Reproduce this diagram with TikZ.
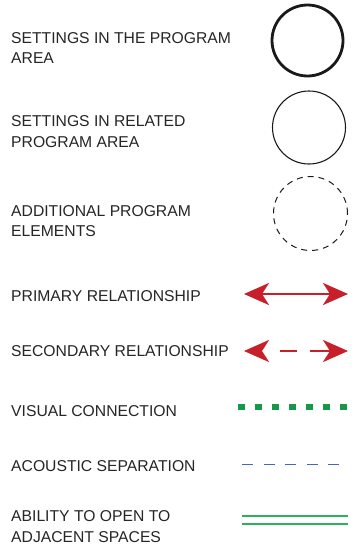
\documentclass[tikz,border=0pt]{standalone}
\usepackage{fontspec}
\setmainfont{Liberation Sans}
\usepackage{xcolor}
\usepackage{tikz}
\usetikzlibrary{arrows.meta}
\definecolor{relred}{HTML}{C8202A}
\definecolor{visgreen}{HTML}{16984A}
\definecolor{openGreen}{HTML}{2EB062}
\definecolor{acblue}{HTML}{4A66B4}
\tikzset{
    label_text/.style = {anchor=west, inner sep=0pt, align=left, text=black!85, font=\fontsize{15.7}{20.8}\selectfont},
    area_main/.style = {circle, draw=black!90, line width=2.8pt, minimum size=71pt, inner sep=0pt},
    area_rel/.style = {circle, draw=black!90, line width=1.1pt, minimum size=73pt, inner sep=0pt},
    area_add/.style = {circle, draw=black!90, line width=1pt, dash pattern=on 6pt off 5pt, minimum size=74pt, inner sep=0pt},
    rel_tip/.tip = {Stealth[length=25pt, width=22pt, inset=7pt]},
    prim_rel/.style = {draw=relred, line width=2.6pt, rel_tip-rel_tip},
    sec_rel/.style = {draw=relred, line width=2.6pt, rel_tip-rel_tip, dash pattern=on 0pt off 19pt on 17pt off 13pt on 40pt},
    vis_line/.style = {draw=visgreen, line width=6.5pt, dash pattern=on 6.5pt off 10.5pt},
    ac_line/.style = {draw=acblue, line width=0.9pt, dash pattern=on 11pt off 10.5pt},
    open_line/.style = {draw=openGreen, line width=1.3pt, double distance=6.5pt, double=white}
}
\begin{document}
\begin{tikzpicture}[x=1pt, y=-1pt]
    \useasboundingbox[fill=white] (0,0) rectangle (359,560);
    % labels
    \node [label_text] (l_main) at (11,48) {SETTINGS IN THE PROGRAM\\AREA};
    \node [label_text] (l_rel) at (11,131.5) {SETTINGS IN RELATED\\PROGRAM AREA};
    \node [label_text] (l_add) at (11,221) {ADDITIONAL PROGRAM\\ELEMENTS};
    \node [label_text] (l_prim) at (11,296) {PRIMARY RELATIONSHIP};
    \node [label_text] (l_sec) at (11,351.5) {SECONDARY RELATIONSHIP};
    \node [label_text] (l_vis) at (11,411.5) {VISUAL CONNECTION};
    \node [label_text] (l_ac) at (11,466) {ACOUSTIC SEPARATION};
    \node [label_text] (l_open) at (11,526.5) {ABILITY TO OPEN TO\\ADJACENT SPACES};
    % circles
    \node [area_main] (c_main) at (307.5,40.5) {};
    \node [area_rel] (c_rel) at (309,127.5) {};
    \node [area_add] (c_add) at (310.5,213.5) {};
    % line ends
    \coordinate (prim_a) at (244,294);
    \coordinate (prim_b) at (348,294);
    \coordinate (sec_a) at (244,351);
    \coordinate (sec_b) at (348,351);
    \coordinate (vis_a) at (238,407);
    \coordinate (vis_b) at (352,407);
    \coordinate (ac_a) at (242,464);
    \coordinate (ac_b) at (349,464);
    \coordinate (open_a) at (242,520);
    \coordinate (open_b) at (348,520);
    % relations
    \draw [prim_rel] (prim_a) -- (prim_b);
    \draw [sec_rel] (sec_a) -- (sec_b);
    \draw [vis_line] (vis_a) -- (vis_b);
    \draw [ac_line] (ac_a) -- (ac_b);
    \draw [open_line] (open_a) -- (open_b);
\end{tikzpicture}
\end{document}
